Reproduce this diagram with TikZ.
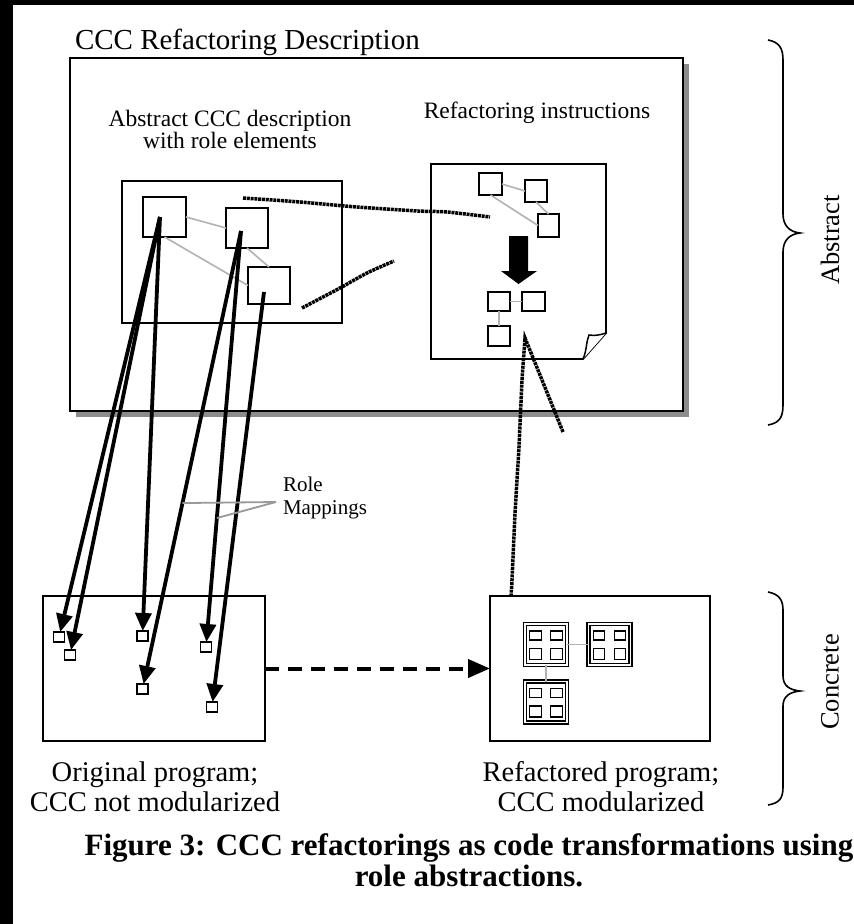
\documentclass[tikz,border=0pt]{standalone}
\usepackage{fontspec}
\setmainfont{Liberation Serif}
\usetikzlibrary{arrows.meta,calc}
\newcommand{\fsTitle}{\fontsize{29}{33}\selectfont}
\newcommand{\fsLab}{\fontsize{23.5}{22}\selectfont}
\newcommand{\fsRole}{\fontsize{21}{23}\selectfont}
\newcommand{\fsProg}{\fontsize{28.5}{27}\selectfont}
\newcommand{\fsSide}{\fontsize{26.5}{26}\selectfont}
\newcommand{\fsCap}{\fontsize{31}{31}\selectfont\bfseries}
\tikzset{
  box/.style={draw=black, line width=2pt, fill=white, inner sep=0pt, outer sep=0pt},
  sq/.style={draw=black, line width=1.8pt, fill=white, inner sep=0pt, outer sep=0pt},
  tinysq/.style={draw=black, line width=1.4pt, fill=white, inner sep=0pt, outer sep=0pt, minimum width=11pt, minimum height=10pt},
  modsq/.style={draw=black, line width=1.4pt, double=white, double distance=1.4pt, inner sep=0pt, outer sep=0pt, minimum width=42pt, minimum height=41pt},
  cellsq/.style={draw=black, line width=1.4pt, inner sep=0pt, outer sep=0pt, minimum width=11.5pt, minimum height=9pt},
  link/.style={draw=black!30, line width=1.6pt},
  rolelink/.style={draw=black!40, line width=1.8pt},
  rolearrow/.style={draw=black, line width=3.8pt, -{Triangle[length=18pt,width=16pt]}},
  pen/.style={draw=black, line width=3.5pt, dash pattern=on 3pt off 0.8pt},
  brace/.style={draw=black, line width=1.6pt},
  lbl/.style={inner sep=0pt, outer sep=0pt, align=center}
}
\begin{document}
\begin{tikzpicture}[x=1pt,y=-1pt]
\useasboundingbox (0,0) rectangle (854,924);
\fill[white] (0,0) rectangle (854,924);
\fill[black] (0,0) rectangle (854,5);
\fill[black] (0,0) rectangle (13,924);

% title
\node[lbl, anchor=base west, font=\fsTitle] (title) at (75,49) {CCC Refactoring Description};

% outer box with shadow
\fill[black!45] (76,64) rectangle (689,417);
\node[box, line width=2.5pt, minimum width=613pt, minimum height=353pt] (outer) at (376.5,234.5) {};

% labels inside
\node[lbl, font=\fsLab] (desclbl) at (230,129) {Abstract CCC description\\[0pt]with role elements};
\node[lbl, font=\fsLab, anchor=base] (instrlbl) at (537,118) {Refactoring instructions};

% abstract description box
\node[box, minimum width=220pt, minimum height=142pt] (desc) at (232,252) {};
\node[sq, minimum width=43pt, minimum height=40pt] (A) at (164.5,217) {};
\node[sq, minimum width=42pt, minimum height=40pt] (B) at (247,228) {};
\node[sq, minimum width=42pt, minimum height=37pt] (C) at (269,285.5) {};
\draw[link] (A.east) -- (B.west);
\draw[link] (A.south) -- (C.west);
\draw[link] (B.south) -- (C.north);

% refactoring instructions document
\draw[line width=1.8pt, fill=white] (431,164) -- (606,164) -- (606,333) -- (583,359) -- (431,359) -- cycle;
\draw[line width=1.5pt, fill=white] (583,359) .. controls (587,350) and (586,342) .. (589,335) .. controls (595,336) and (600,335) .. (606,333);
\node[sq, minimum width=23pt, minimum height=22pt] (q1) at (490.5,184) {};
\node[sq, minimum width=22pt, minimum height=22pt] (q2) at (536,191) {};
\node[sq, minimum width=21pt, minimum height=23pt] (q3) at (548.5,225.5) {};
\draw[link] (q1.east) -- (q2.west);
\draw[link] (q1.south) -- (q3.west);
\draw[link] (q2.south) -- (q3.north);
\fill[black] (509,236) -- (528,236) -- (528,271) -- (537,271) -- (518.5,284) -- (501,271) -- (509,271) -- cycle;
\node[sq, minimum width=22pt, minimum height=19pt] (r1) at (499,301.5) {};
\node[sq, minimum width=23pt, minimum height=19pt] (r2) at (533.5,301.5) {};
\node[sq, minimum width=22pt, minimum height=20pt] (r3) at (499,336) {};
\draw[link] (r1.east) -- (r2.west);
\draw[link] (r1.south) -- (r3.north);

% pen strokes
\coordinate (p1s) at (243,198);
\coordinate (p1e) at (490,217);
\draw[pen] plot[smooth] coordinates {(p1s) (300,202) (357,207) (418,211) (447,212) (p1e)};
\coordinate (p2s) at (302,308);
\coordinate (p2e) at (394,261);
\draw[pen] plot[smooth] coordinates {(p2s) (340,288) (367,273) (p2e)};
\coordinate (p3a) at (563,432);
\coordinate (p3top) at (525,338);
\coordinate (p3b) at (508,655);
\draw[pen] (p3a) -- (542,380) -- (p3top) -- (522,380) -- (519,447) -- (515,513) -- (512,580) -- (p3b);

% original program box
\node[box, minimum width=222pt, minimum height=145pt] (L) at (154,668.5) {};
\node[tinysq] (s1) at (59,637) {};
\node[tinysq] (s2) at (70,655) {};
\node[tinysq] (s3) at (142.5,636) {};
\node[tinysq] (s4) at (206,647) {};
\node[tinysq] (s5) at (142.5,689) {};
\node[tinysq] (s6) at (212,707) {};

% refactored program box
\node[box, minimum width=220pt, minimum height=145pt] (R) at (600,668.5) {};
\foreach \m/\cx/\cy in {M1/546/644.5, M2/609.5/644.5, M3/546/702}{
  \node[modsq] (\m) at (\cx,\cy) {};
  \node[cellsq] (\m a) at ($(\m)+(-10.5,-9)$) {};
  \node[cellsq] (\m b) at ($(\m)+(10.5,-9)$) {};
  \node[cellsq, minimum height=11pt] (\m c) at ($(\m)+(-10.5,9.5)$) {};
  \node[cellsq, minimum height=11pt] (\m d) at ($(\m)+(10.5,9.5)$) {};
}
\draw[link] (M1.east) -- (M2.west);
\draw[link] (M1.south) -- (M3.north);

% role mapping arrows
\coordinate (a0) at (160,217);
\coordinate (b0) at (241,231);
\coordinate (c0) at (264,292);
\draw[rolearrow] (a0) -- (s1);
\draw[rolearrow] (a0) -- (s2);
\draw[rolearrow] (a0) -- (s3);
\draw[rolearrow] (b0) -- (s4);
\draw[rolearrow] (b0) -- (s5);
\draw[rolearrow] (c0) -- (s6);

% role mappings label
\node[lbl, anchor=west, align=left, font=\fsRole] (rolelbl) at (283,498) {Role\\Mappings};
\coordinate (rm) at (276,502);
\coordinate (m1) at ($(b0)!0.594!(s5)$);
\coordinate (m2) at ($(b0)!0.69!(s4)$);
\draw[rolelink] (rm) -- (m1);
\draw[rolelink] (rm) -- (m2);

% transformation arrow
\draw[line width=4pt, dash pattern=on 14pt off 9pt, -{Triangle[length=22pt,width=18pt]}] (L) -- (R);

% program labels
\node[lbl, font=\fsProg] (origlbl) at (155,787) {Original program;\\[3pt]CCC not modularized};
\node[lbl, font=\fsProg] (reflbl) at (601,787) {Refactored program;\\[3pt]CCC modularized};

% braces
\draw[brace] (768,40) .. controls (779,42) and (783,48) .. (783,60) -- (783,214)
  .. controls (783,226) and (790,232) .. (800,233) .. controls (790,234) and (783,240) .. (783,252)
  -- (783,405) .. controls (783,418) and (779,423) .. (768,425);
\draw[brace] (768,592) .. controls (779,594) and (783,600) .. (783,610) -- (783,676)
  .. controls (783,686) and (790,690) .. (800,691) .. controls (790,692) and (783,696) .. (783,706)
  -- (783,787) .. controls (783,799) and (779,803) .. (768,805);
\node[lbl, rotate=90, font=\fsSide] (abslbl) at (830,240) {Abstract};
\node[lbl, rotate=90, font=\fsSide] (conlbl) at (830,682) {Concrete};

% caption
\node[lbl, font=\fsCap] (caption) at (469,860) {Figure 3: CCC refactorings as code transformations using\\[0pt]role abstractions.};
\end{tikzpicture}
\end{document}
